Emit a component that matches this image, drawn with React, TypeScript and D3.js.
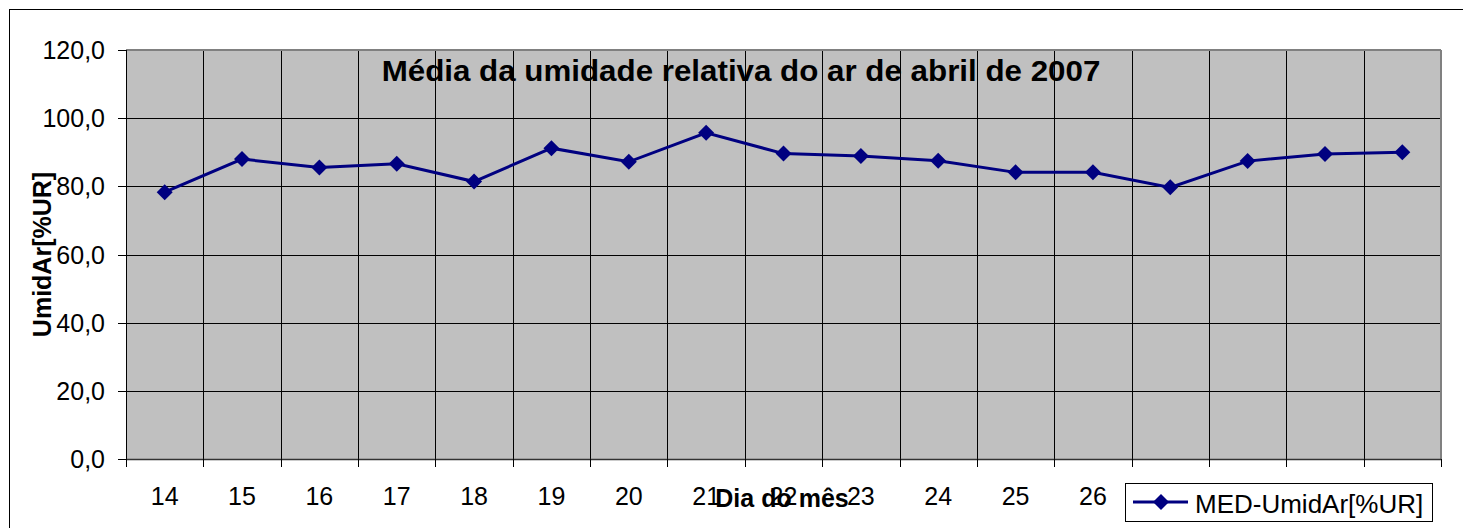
import React from "react";
import * as d3 from "d3";

const days = ["14","15","16","17","18","19","20","21","22","23","24","25","26","27","28","29","30"];
const humidity = [78.3, 88.0, 85.5, 86.6, 81.4, 91.2, 87.2, 95.7, 89.6, 88.9, 87.5, 84.1, 84.1, 79.7, 87.4, 89.5, 90.0];
const yTicks = [0, 20, 40, 60, 80, 100, 120];
const title = "Média da umidade relativa do ar de abril de 2007";
const xTitle = "Dia do mês";
const yTitle = "UmidAr[%UR]";
const seriesName = "MED-UmidAr[%UR]";

const W = 1463, H = 528;
const L = 126, R = 1441, T = 50, B = 459;

export default function App() {
  const x = d3.scaleBand<string>().domain(days).range([L, R]).padding(0);
  const y = d3.scaleLinear().domain([0, 120]).range([B, T]);
  const line = d3.line<number>()
    .x((_, i) => (x(days[i]) as number) + x.bandwidth() / 2)
    .y(d => y(d));
  const diamond = (cx: number, cy: number, r: number) =>
    `M${cx},${cy - r}L${cx + r},${cy}L${cx},${cy + r}L${cx - r},${cy}Z`;
  const font = "Arial, 'Liberation Sans', sans-serif";
  const navy = "#000080";
  const bounds = days.map(d => x(d) as number).concat([R]);

  return (
    <svg width={W} height={H} style={{ position: "absolute", left: 0, top: 0 }} fontFamily={font}>
      <rect x={0} y={0} width={W} height={H} fill="#fff" />
      <rect x={9.5} y={9.5} width={W + 20} height={H + 20} fill="none" stroke="#000" strokeWidth={1} />
      <rect x={L} y={T} width={R - L} height={B - T} fill="#c0c0c0" />
      {yTicks.map(t => (
        <line key={"h" + t} x1={L} x2={R} y1={Math.round(y(t)) + 0.5} y2={Math.round(y(t)) + 0.5} stroke="#000" strokeWidth={1} />
      ))}
      {bounds.slice(1, -1).map((bx, i) => (
        <line key={"v" + i} x1={Math.round(bx) + 0.5} x2={Math.round(bx) + 0.5} y1={T} y2={B} stroke="#000" strokeWidth={1} />
      ))}
      <line x1={L} x2={R} y1={T} y2={T} stroke="#808080" strokeWidth={2} />
      <line x1={R} x2={R} y1={T} y2={B} stroke="#808080" strokeWidth={2} />
      <line x1={L + 0.5} x2={L + 0.5} y1={T} y2={B} stroke="#000" strokeWidth={1} />
      <line x1={L} x2={R} y1={B + 0.5} y2={B + 0.5} stroke="#333" strokeWidth={1.5} />
      {yTicks.map(t => (
        <g key={"yt" + t}>
          <line x1={118} x2={L} y1={Math.round(y(t)) + 0.5} y2={Math.round(y(t)) + 0.5} stroke="#000" />
          <text x={105} y={y(t)} dy="0.36em" textAnchor="end" fontSize={25} fill="#000">
            {t.toFixed(1).replace(".", ",")}
          </text>
        </g>
      ))}
      {bounds.map((bx, i) => (
        <line key={"xt" + i} x1={Math.round(bx) + 0.5} x2={Math.round(bx) + 0.5} y1={B} y2={B + 8} stroke="#000" />
      ))}
      {days.slice(0, 13).map(d => (
        <text key={"xl" + d} x={(x(d) as number) + x.bandwidth() / 2} y={505} textAnchor="middle" fontSize={25} fill="#000">
          {d}
        </text>
      ))}
      <path d={line(humidity) || ""} fill="none" stroke={navy} strokeWidth={3} />
      {humidity.map((v, i) => (
        <path key={"m" + i} d={diamond((x(days[i]) as number) + x.bandwidth() / 2, y(v), 8)} fill={navy} />
      ))}
      <text x={741} y={81} textAnchor="middle" fontSize={29} fontWeight="bold" fill="#000"
        transform="translate(741,0) scale(1.08,1) translate(-741,0)">
        {title}
      </text>
      <text x={782} y={507} textAnchor="middle" fontSize={25} fontWeight="bold" fill="#000">{xTitle}</text>
      <text transform={`translate(51,${(T + B) / 2}) rotate(-90)`} textAnchor="middle" fontSize={25} fontWeight="bold" fill="#000">
        {yTitle}
      </text>
      <rect x={1125.5} y={483.5} width={307} height={38} fill="#fff" stroke="#000" strokeWidth={1} />
      <line x1={1133} x2={1188} y1={502} y2={502} stroke={navy} strokeWidth={3} />
      <path d={diamond(1161, 502, 8)} fill={navy} />
      <text x={1195} y={513} fontSize={26} fill="#000">{seriesName}</text>
    </svg>
  );
}
